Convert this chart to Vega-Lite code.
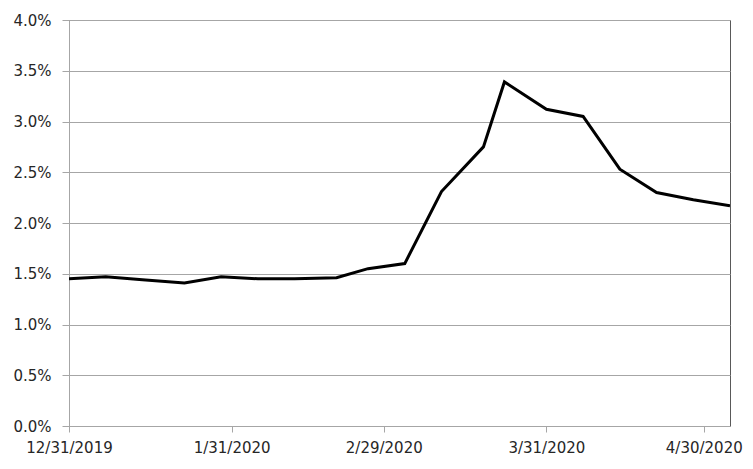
{
  "$schema": "https://vega.github.io/schema/vega-lite/v6.json",
  "width": 661,
  "height": 406,
  "autosize": {"type": "none"},
  "padding": {"left": 69, "top": 20, "right": 23, "bottom": 43},
  "background": "white",
  "config": {
    "view": {"stroke": "#595959", "strokeWidth": 1},
    "font": "DejaVu Sans"
  },
  "data": {
    "values": [
      {"date": "2019-12-31", "rate": 0.0145},
      {"date": "2020-01-07", "rate": 0.0147},
      {"date": "2020-01-14", "rate": 0.0144},
      {"date": "2020-01-22", "rate": 0.0141},
      {"date": "2020-01-29", "rate": 0.0147},
      {"date": "2020-02-05", "rate": 0.0145},
      {"date": "2020-02-12", "rate": 0.0145},
      {"date": "2020-02-20", "rate": 0.0146},
      {"date": "2020-02-26", "rate": 0.0155},
      {"date": "2020-03-04", "rate": 0.0160},
      {"date": "2020-03-11", "rate": 0.0231},
      {"date": "2020-03-19", "rate": 0.0275},
      {"date": "2020-03-23", "rate": 0.0339},
      {"date": "2020-03-31", "rate": 0.0312},
      {"date": "2020-04-07", "rate": 0.0305},
      {"date": "2020-04-14", "rate": 0.0253},
      {"date": "2020-04-21", "rate": 0.0230},
      {"date": "2020-04-28", "rate": 0.0223},
      {"date": "2020-05-05", "rate": 0.0217}
    ]
  },
  "mark": {"type": "line", "color": "black", "strokeWidth": 3, "strokeJoin": "miter", "clip": true},
  "encoding": {
    "x": {
      "field": "date",
      "type": "temporal",
      "scale": {
        "type": "utc",
        "domain": [
          {"year": 2019, "month": 12, "date": 31, "utc": true},
          {"year": 2020, "month": 5, "date": 5, "utc": true}
        ]
      },
      "axis": {
        "title": null,
        "values": [
          {"year": 2019, "month": 12, "date": 31, "utc": true},
          {"year": 2020, "month": 1, "date": 31, "utc": true},
          {"year": 2020, "month": 2, "date": 29, "utc": true},
          {"year": 2020, "month": 3, "date": 31, "utc": true},
          {"year": 2020, "month": 4, "date": 30, "utc": true}
        ],
        "format": "%-m/%-d/%Y",
        "grid": false,
        "domainColor": "#a6a6a6",
        "domainWidth": 1,
        "tickColor": "#a6a6a6",
        "tickSize": 6,
        "labelFontSize": 15,
        "labelColor": "#262626",
        "labelPadding": 8,
        "labelFlush": false,
        "labelOverlap": false,
        "labelAlign": "center"
      }
    },
    "y": {
      "field": "rate",
      "type": "quantitative",
      "scale": {"domain": [0, 0.04], "nice": false},
      "axis": {
        "title": null,
        "values": [0, 0.005, 0.01, 0.015, 0.02, 0.025, 0.03, 0.035, 0.04],
        "format": ".1%",
        "grid": true,
        "gridColor": "#a6a6a6",
        "gridWidth": 1,
        "domainColor": "#a6a6a6",
        "tickColor": "#a6a6a6",
        "tickSize": 7,
        "labelFontSize": 15,
        "labelColor": "#262626",
        "labelPadding": 11
      }
    }
  }
}
